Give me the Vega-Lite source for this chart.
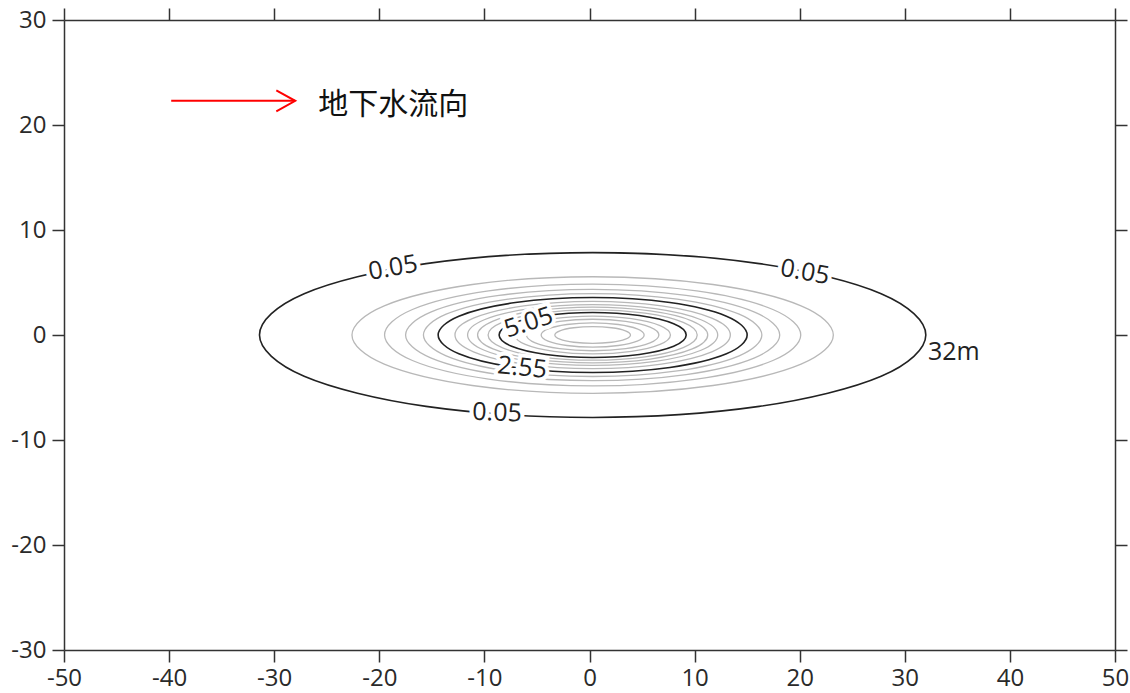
{
  "$schema": "https://vega.github.io/schema/vega-lite/v6.json",
  "width": 1051,
  "height": 630,
  "autosize": "none",
  "padding": {"left": 64, "top": 20, "right": 15, "bottom": 43},
  "background": "white",
  "config": {
    "view": {"stroke": null},
    "axis": {"domainColor": "#333", "domainWidth": 1.5, "tickColor": "#333", "tickWidth": 1.5, "tickSize": 12, "labelFont": "Open Sans", "labelFontSize": 24, "labelColor": "#2a2a2a", "grid": false}
  },
  "datasets": {
    "contours": [
      {"l":0.05,"i":0,"x":32.0,"y":0},{"l":0.05,"i":1,"x":27.75,"y":3.93},{"l":0.05,"i":2,"x":16.15,"y":6.8},{"l":0.05,"i":3,"x":0.3,"y":7.85},{"l":0.05,"i":4,"x":-15.55,"y":6.8},{"l":0.05,"i":5,"x":-27.15,"y":3.93},{"l":0.05,"i":6,"x":-31.4,"y":0},{"l":0.05,"i":7,"x":-27.15,"y":-3.93},{"l":0.05,"i":8,"x":-15.55,"y":-6.8},{"l":0.05,"i":9,"x":0.3,"y":-7.85},{"l":0.05,"i":10,"x":16.15,"y":-6.8},{"l":0.05,"i":11,"x":27.75,"y":-3.93},
      {"l":0.55,"i":0,"x":23.2,"y":0},{"l":0.55,"i":1,"x":20.13,"y":2.78},{"l":0.55,"i":2,"x":11.75,"y":4.81},{"l":0.55,"i":3,"x":0.3,"y":5.55},{"l":0.55,"i":4,"x":-11.15,"y":4.81},{"l":0.55,"i":5,"x":-19.53,"y":2.78},{"l":0.55,"i":6,"x":-22.6,"y":0},{"l":0.55,"i":7,"x":-19.53,"y":-2.78},{"l":0.55,"i":8,"x":-11.15,"y":-4.81},{"l":0.55,"i":9,"x":0.3,"y":-5.55},{"l":0.55,"i":10,"x":11.75,"y":-4.81},{"l":0.55,"i":11,"x":20.13,"y":-2.78},
      {"l":1.05,"i":0,"x":20.1,"y":0},{"l":1.05,"i":1,"x":17.45,"y":2.43},{"l":1.05,"i":2,"x":10.2,"y":4.2},{"l":1.05,"i":3,"x":0.3,"y":4.85},{"l":1.05,"i":4,"x":-9.6,"y":4.2},{"l":1.05,"i":5,"x":-16.85,"y":2.43},{"l":1.05,"i":6,"x":-19.5,"y":0},{"l":1.05,"i":7,"x":-16.85,"y":-2.43},{"l":1.05,"i":8,"x":-9.6,"y":-4.2},{"l":1.05,"i":9,"x":0.3,"y":-4.85},{"l":1.05,"i":10,"x":10.2,"y":-4.2},{"l":1.05,"i":11,"x":17.45,"y":-2.43},
      {"l":1.55,"i":0,"x":18.1,"y":0},{"l":1.55,"i":1,"x":15.71,"y":2.18},{"l":1.55,"i":2,"x":9.2,"y":3.77},{"l":1.55,"i":3,"x":0.3,"y":4.35},{"l":1.55,"i":4,"x":-8.6,"y":3.77},{"l":1.55,"i":5,"x":-15.11,"y":2.18},{"l":1.55,"i":6,"x":-17.5,"y":0},{"l":1.55,"i":7,"x":-15.11,"y":-2.18},{"l":1.55,"i":8,"x":-8.6,"y":-3.77},{"l":1.55,"i":9,"x":0.3,"y":-4.35},{"l":1.55,"i":10,"x":9.2,"y":-3.77},{"l":1.55,"i":11,"x":15.71,"y":-2.18},
      {"l":2.05,"i":0,"x":16.4,"y":0},{"l":2.05,"i":1,"x":14.24,"y":1.98},{"l":2.05,"i":2,"x":8.35,"y":3.42},{"l":2.05,"i":3,"x":0.3,"y":3.95},{"l":2.05,"i":4,"x":-7.75,"y":3.42},{"l":2.05,"i":5,"x":-13.64,"y":1.98},{"l":2.05,"i":6,"x":-15.8,"y":0},{"l":2.05,"i":7,"x":-13.64,"y":-1.98},{"l":2.05,"i":8,"x":-7.75,"y":-3.42},{"l":2.05,"i":9,"x":0.3,"y":-3.95},{"l":2.05,"i":10,"x":8.35,"y":-3.42},{"l":2.05,"i":11,"x":14.24,"y":-1.98},
      {"l":2.55,"i":0,"x":15.0,"y":0},{"l":2.55,"i":1,"x":13.03,"y":1.79},{"l":2.55,"i":2,"x":7.65,"y":3.09},{"l":2.55,"i":3,"x":0.3,"y":3.57},{"l":2.55,"i":4,"x":-7.05,"y":3.09},{"l":2.55,"i":5,"x":-12.43,"y":1.79},{"l":2.55,"i":6,"x":-14.4,"y":0},{"l":2.55,"i":7,"x":-12.43,"y":-1.79},{"l":2.55,"i":8,"x":-7.05,"y":-3.09},{"l":2.55,"i":9,"x":0.3,"y":-3.57},{"l":2.55,"i":10,"x":7.65,"y":-3.09},{"l":2.55,"i":11,"x":13.03,"y":-1.79},
      {"l":3.05,"i":0,"x":13.4,"y":0},{"l":3.05,"i":1,"x":11.64,"y":1.6},{"l":3.05,"i":2,"x":6.85,"y":2.77},{"l":3.05,"i":3,"x":0.3,"y":3.2},{"l":3.05,"i":4,"x":-6.25,"y":2.77},{"l":3.05,"i":5,"x":-11.04,"y":1.6},{"l":3.05,"i":6,"x":-12.8,"y":0},{"l":3.05,"i":7,"x":-11.04,"y":-1.6},{"l":3.05,"i":8,"x":-6.25,"y":-2.77},{"l":3.05,"i":9,"x":0.3,"y":-3.2},{"l":3.05,"i":10,"x":6.85,"y":-2.77},{"l":3.05,"i":11,"x":11.64,"y":-1.6},
      {"l":3.55,"i":0,"x":12.2,"y":0},{"l":3.55,"i":1,"x":10.61,"y":1.45},{"l":3.55,"i":2,"x":6.25,"y":2.51},{"l":3.55,"i":3,"x":0.3,"y":2.9},{"l":3.55,"i":4,"x":-5.65,"y":2.51},{"l":3.55,"i":5,"x":-10.01,"y":1.45},{"l":3.55,"i":6,"x":-11.6,"y":0},{"l":3.55,"i":7,"x":-10.01,"y":-1.45},{"l":3.55,"i":8,"x":-5.65,"y":-2.51},{"l":3.55,"i":9,"x":0.3,"y":-2.9},{"l":3.55,"i":10,"x":6.25,"y":-2.51},{"l":3.55,"i":11,"x":10.61,"y":-1.45},
      {"l":4.05,"i":0,"x":11.25,"y":0},{"l":4.05,"i":1,"x":9.78,"y":1.33},{"l":4.05,"i":2,"x":5.78,"y":2.29},{"l":4.05,"i":3,"x":0.3,"y":2.65},{"l":4.05,"i":4,"x":-5.18,"y":2.29},{"l":4.05,"i":5,"x":-9.18,"y":1.33},{"l":4.05,"i":6,"x":-10.65,"y":0},{"l":4.05,"i":7,"x":-9.18,"y":-1.33},{"l":4.05,"i":8,"x":-5.18,"y":-2.29},{"l":4.05,"i":9,"x":0.3,"y":-2.65},{"l":4.05,"i":10,"x":5.78,"y":-2.29},{"l":4.05,"i":11,"x":9.78,"y":-1.33},
      {"l":4.55,"i":0,"x":10.25,"y":0},{"l":4.55,"i":1,"x":8.92,"y":1.2},{"l":4.55,"i":2,"x":5.28,"y":2.08},{"l":4.55,"i":3,"x":0.3,"y":2.4},{"l":4.55,"i":4,"x":-4.68,"y":2.08},{"l":4.55,"i":5,"x":-8.32,"y":1.2},{"l":4.55,"i":6,"x":-9.65,"y":0},{"l":4.55,"i":7,"x":-8.32,"y":-1.2},{"l":4.55,"i":8,"x":-4.68,"y":-2.08},{"l":4.55,"i":9,"x":0.3,"y":-2.4},{"l":4.55,"i":10,"x":5.28,"y":-2.08},{"l":4.55,"i":11,"x":8.92,"y":-1.2},
      {"l":5.05,"i":0,"x":9.2,"y":0},{"l":5.05,"i":1,"x":8.01,"y":1.07},{"l":5.05,"i":2,"x":4.75,"y":1.85},{"l":5.05,"i":3,"x":0.3,"y":2.14},{"l":5.05,"i":4,"x":-4.15,"y":1.85},{"l":5.05,"i":5,"x":-7.41,"y":1.07},{"l":5.05,"i":6,"x":-8.6,"y":0},{"l":5.05,"i":7,"x":-7.41,"y":-1.07},{"l":5.05,"i":8,"x":-4.15,"y":-1.85},{"l":5.05,"i":9,"x":0.3,"y":-2.14},{"l":5.05,"i":10,"x":4.75,"y":-1.85},{"l":5.05,"i":11,"x":8.01,"y":-1.07},
      {"l":5.55,"i":0,"x":7.7,"y":0},{"l":5.55,"i":1,"x":6.71,"y":0.9},{"l":5.55,"i":2,"x":4.0,"y":1.56},{"l":5.55,"i":3,"x":0.3,"y":1.8},{"l":5.55,"i":4,"x":-3.4,"y":1.56},{"l":5.55,"i":5,"x":-6.11,"y":0.9},{"l":5.55,"i":6,"x":-7.1,"y":0},{"l":5.55,"i":7,"x":-6.11,"y":-0.9},{"l":5.55,"i":8,"x":-3.4,"y":-1.56},{"l":5.55,"i":9,"x":0.3,"y":-1.8},{"l":5.55,"i":10,"x":4.0,"y":-1.56},{"l":5.55,"i":11,"x":6.71,"y":-0.9},
      {"l":6.05,"i":0,"x":6.6,"y":0},{"l":6.05,"i":1,"x":5.76,"y":0.75},{"l":6.05,"i":2,"x":3.45,"y":1.3},{"l":6.05,"i":3,"x":0.3,"y":1.5},{"l":6.05,"i":4,"x":-2.85,"y":1.3},{"l":6.05,"i":5,"x":-5.16,"y":0.75},{"l":6.05,"i":6,"x":-6.0,"y":0},{"l":6.05,"i":7,"x":-5.16,"y":-0.75},{"l":6.05,"i":8,"x":-2.85,"y":-1.3},{"l":6.05,"i":9,"x":0.3,"y":-1.5},{"l":6.05,"i":10,"x":3.45,"y":-1.3},{"l":6.05,"i":11,"x":5.76,"y":-0.75},
      {"l":6.55,"i":0,"x":5.2,"y":0},{"l":6.55,"i":1,"x":4.54,"y":0.58},{"l":6.55,"i":2,"x":2.75,"y":1.0},{"l":6.55,"i":3,"x":0.3,"y":1.15},{"l":6.55,"i":4,"x":-2.15,"y":1.0},{"l":6.55,"i":5,"x":-3.94,"y":0.58},{"l":6.55,"i":6,"x":-4.6,"y":0},{"l":6.55,"i":7,"x":-3.94,"y":-0.58},{"l":6.55,"i":8,"x":-2.15,"y":-1.0},{"l":6.55,"i":9,"x":0.3,"y":-1.15},{"l":6.55,"i":10,"x":2.75,"y":-1.0},{"l":6.55,"i":11,"x":4.54,"y":-0.58},
      {"l":7.05,"i":0,"x":3.9,"y":0},{"l":7.05,"i":1,"x":3.42,"y":0.4},{"l":7.05,"i":2,"x":2.1,"y":0.69},{"l":7.05,"i":3,"x":0.3,"y":0.8},{"l":7.05,"i":4,"x":-1.5,"y":0.69},{"l":7.05,"i":5,"x":-2.82,"y":0.4},{"l":7.05,"i":6,"x":-3.3,"y":0},{"l":7.05,"i":7,"x":-2.82,"y":-0.4},{"l":7.05,"i":8,"x":-1.5,"y":-0.69},{"l":7.05,"i":9,"x":0.3,"y":-0.8},{"l":7.05,"i":10,"x":2.1,"y":-0.69},{"l":7.05,"i":11,"x":3.42,"y":-0.4}
    ],
    "arrow": [
      {"seg":"shaft","i":0,"x":-39.8,"y":22.3},{"seg":"shaft","i":1,"x":-28.0,"y":22.3},
      {"seg":"head","i":0,"x":-29.8,"y":23.3},{"seg":"head","i":1,"x":-28.0,"y":22.3},{"seg":"head","i":2,"x":-29.8,"y":21.3}
    ],
    "labels": [
      {"id":"a","t":"0.05","x":-18.7,"y":6.4},
      {"id":"b","t":"0.05","x":20.5,"y":6.0},
      {"id":"c","t":"0.05","x":-8.8,"y":-7.4},
      {"id":"d","t":"5.05","x":-5.8,"y":1.2},
      {"id":"e","t":"2.55","x":-6.4,"y":-3.1},
      {"id":"f","t":"32m","x":32.2,"y":-1.65},
      {"id":"g","t":"地下水流向","x":-25.8,"y":21.9}
    ]
  },
  "encoding": {
    "x": {"field": "x", "type": "quantitative", "scale": {"domain": [-50, 50], "nice": false, "zero": false}, "axis": null},
    "y": {"field": "y", "type": "quantitative", "scale": {"domain": [-30, 30], "nice": false, "zero": false}, "axis": null}
  },
  "layer": [
    {
      "data": {"name": "contours"},
      "transform": [{"filter": "!(datum.l == 0.05 || datum.l == 2.55 || datum.l == 5.05)"}],
      "mark": {"type": "line", "interpolate": "cardinal-closed", "color": "#b8b8b8", "strokeWidth": 1.3},
      "encoding": {
        "x": {"field": "x", "type": "quantitative", "scale": {"domain": [-50, 50], "nice": false, "zero": false},
              "axis": {"orient": "bottom", "values": [-50,-40,-30,-20,-10,0,10,20,30,40,50], "labelExpr": "'' + datum.value", "labelFlush": false, "labelPadding": 4, "title": null}},
        "y": {"field": "y", "type": "quantitative", "scale": {"domain": [-30, 30], "nice": false, "zero": false},
              "axis": {"orient": "left", "values": [-30,-20,-10,0,10,20,30], "labelExpr": "'' + datum.value", "labelFlush": false, "labelPadding": 6, "title": null}},
        "detail": {"field": "l", "type": "nominal"},
        "order": {"field": "i", "type": "quantitative"}
      }
    },
    {
      "data": {"name": "contours"},
      "transform": [{"filter": "datum.l == 0.05 || datum.l == 2.55 || datum.l == 5.05"}],
      "mark": {"type": "line", "interpolate": "cardinal-closed", "color": "#222", "strokeWidth": 1.6},
      "encoding": {
        "x": {"field": "x", "type": "quantitative", "scale": {"domain": [-50, 50], "nice": false, "zero": false},
              "axis": {"orient": "top", "values": [-50,-40,-30,-20,-10,0,10,20,30,40,50], "labels": false, "title": null}},
        "y": {"field": "y", "type": "quantitative", "scale": {"domain": [-30, 30], "nice": false, "zero": false},
              "axis": {"orient": "right", "values": [-30,-20,-10,0,10,20,30], "labels": false, "title": null}},
        "detail": {"field": "l", "type": "nominal"},
        "order": {"field": "i", "type": "quantitative"}
      }
    },
    {
      "data": {"name": "arrow"},
      "mark": {"type": "line", "color": "#ff0000", "strokeWidth": 2},
      "encoding": {
        "detail": {"field": "seg", "type": "nominal"},
        "order": {"field": "i", "type": "quantitative"}
      }
    },
    {
      "data": {"name": "labels"},
      "transform": [{"filter": "datum.id == 'a'"}],
      "encoding": {"text": {"field": "t"}},
      "layer": [
        {"mark": {"type": "text", "angle": -10, "font": "Open Sans", "fontSize": 25, "fill": "white", "stroke": "white", "strokeWidth": 8}},
        {"mark": {"type": "text", "angle": -10, "font": "Open Sans", "fontSize": 25, "color": "#222"}}
      ]
    },
    {
      "data": {"name": "labels"},
      "transform": [{"filter": "datum.id == 'b'"}],
      "encoding": {"text": {"field": "t"}},
      "layer": [
        {"mark": {"type": "text", "angle": 10, "font": "Open Sans", "fontSize": 25, "fill": "white", "stroke": "white", "strokeWidth": 8}},
        {"mark": {"type": "text", "angle": 10, "font": "Open Sans", "fontSize": 25, "color": "#222"}}
      ]
    },
    {
      "data": {"name": "labels"},
      "transform": [{"filter": "datum.id == 'c'"}],
      "encoding": {"text": {"field": "t"}},
      "layer": [
        {"mark": {"type": "text", "angle": 2, "font": "Open Sans", "fontSize": 25, "fill": "white", "stroke": "white", "strokeWidth": 8}},
        {"mark": {"type": "text", "angle": 2, "font": "Open Sans", "fontSize": 25, "color": "#222"}}
      ]
    },
    {
      "data": {"name": "labels"},
      "transform": [{"filter": "datum.id == 'd'"}],
      "encoding": {"text": {"field": "t"}},
      "layer": [
        {"mark": {"type": "text", "angle": -18, "font": "Open Sans", "fontSize": 25, "fill": "white", "stroke": "white", "strokeWidth": 8}},
        {"mark": {"type": "text", "angle": -18, "font": "Open Sans", "fontSize": 25, "color": "#222"}}
      ]
    },
    {
      "data": {"name": "labels"},
      "transform": [{"filter": "datum.id == 'e'"}],
      "encoding": {"text": {"field": "t"}},
      "layer": [
        {"mark": {"type": "text", "angle": 6, "font": "Open Sans", "fontSize": 25, "fill": "white", "stroke": "white", "strokeWidth": 8}},
        {"mark": {"type": "text", "angle": 6, "font": "Open Sans", "fontSize": 25, "color": "#222"}}
      ]
    },
    {
      "data": {"name": "labels"},
      "transform": [{"filter": "datum.id == 'f'"}],
      "mark": {"type": "text", "align": "left", "font": "Open Sans", "fontSize": 25, "color": "#222"},
      "encoding": {"text": {"field": "t"}}
    },
    {
      "data": {"name": "labels"},
      "transform": [{"filter": "datum.id == 'g'"}],
      "mark": {"type": "text", "align": "left", "baseline": "middle", "font": "Noto Sans CJK SC", "fontSize": 30, "color": "#111"},
      "encoding": {"text": {"field": "t"}}
    }
  ]
}
